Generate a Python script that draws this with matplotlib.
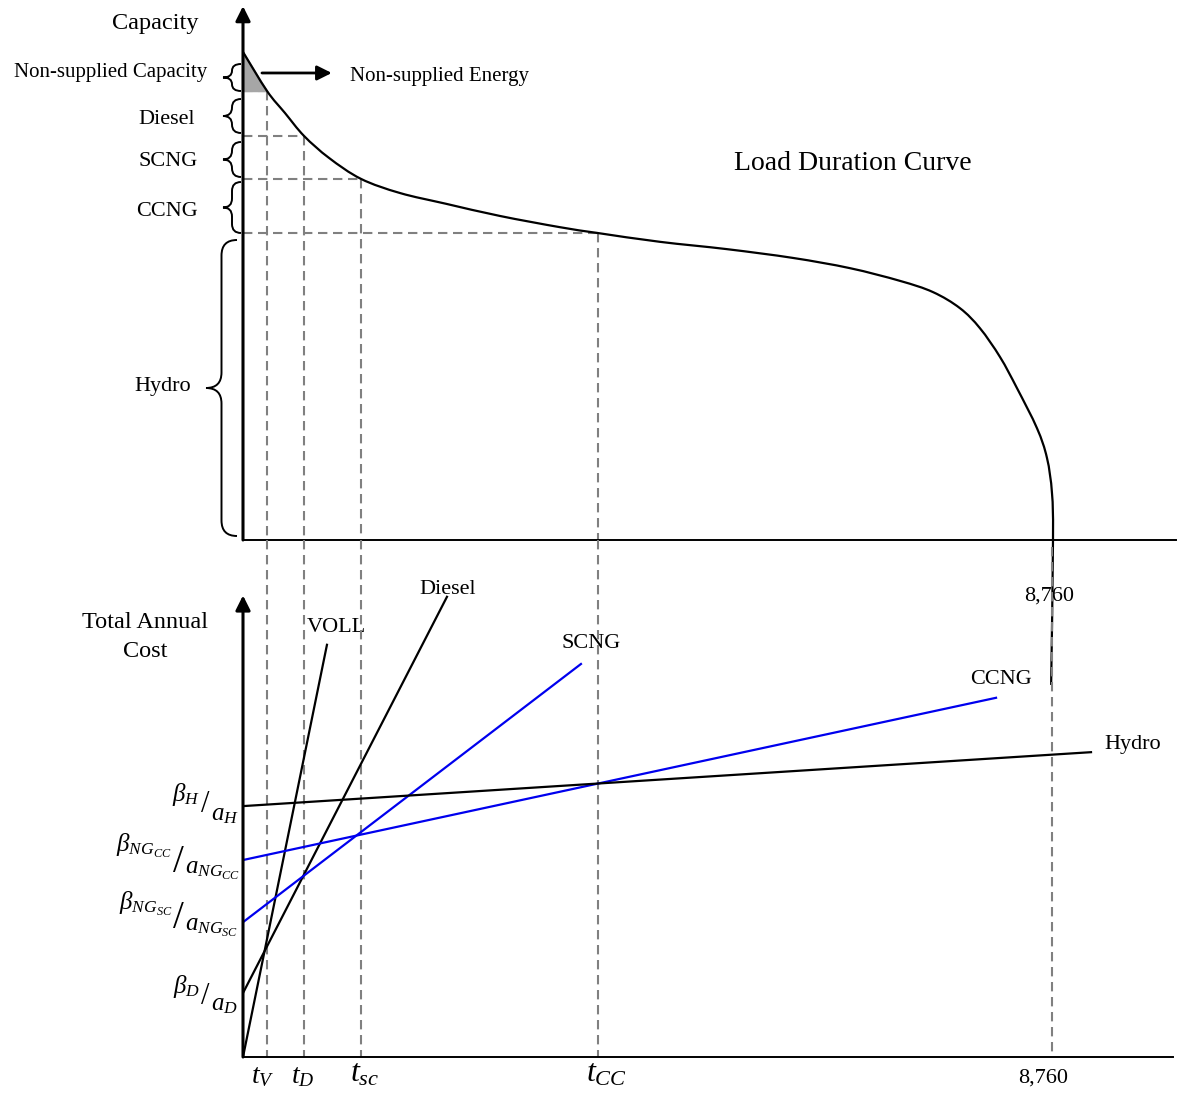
import numpy as np
import matplotlib
matplotlib.use('Agg')
import matplotlib.pyplot as plt
from matplotlib.path import Path
from matplotlib.patches import PathPatch

plt.rcParams['font.family'] = ['Liberation Serif', 'DejaVu Serif']
plt.rcParams['mathtext.fontset'] = 'custom'
plt.rcParams['mathtext.rm'] = 'Liberation Serif'
plt.rcParams['mathtext.it'] = 'Liberation Serif:italic'
plt.rcParams['mathtext.bf'] = 'Liberation Serif:bold'

# ---------------- data ----------------
# Load duration curve: hours of the year vs. capacity (% of peak)
ldc_hours = [0, 260, 454, 660, 930, 1276, 1698, 2195, 2779, 3428, 3839, 4510,
             5234, 5948, 6565, 7105, 7462, 7754, 7970, 8187, 8371, 8587,
             8695, 8749, 8760, 8740]
ldc_capacity = [100, 92.0, 87.5, 82.8, 78.3, 74.0, 71.1, 68.9, 66.4, 64.1, 62.9,
                61.1, 59.6, 57.8, 55.7, 53.1, 50.8, 47.5, 43.4, 37.5, 31.1, 22.9,
                16.8, 9.6, 0.0, -29.7]

# Break points (screening curve intersections) and their capacity levels
break_names = ['t_V', 't_D', 't_SC', 't_CC']
break_hours = [260, 660, 1276, 3839]
break_capacity = [92.0, 82.8, 74.0, 62.9]
year_hours = 8760

# Screening curves: total annual cost lines
techs = ['VOLL', 'Diesel', 'SCNG', 'CCNG', 'Hydro']
cost_intercept = [0.0, 14.0, 29.5, 43.1, 54.9]
cost_end_hours = [908, 2206, 3655, 8144, 9171]
cost_end_value = [90.2, 100.7, 86.0, 78.6, 66.7]
tech_colors = ['black', 'black', '#0000ee', '#0000ee', 'black']

# ---------------- layout ----------------
W, H = 1179, 1095
X0 = 243             # pixel x of the origin
HPP = 8760 / 810     # hours per pixel
fig = plt.figure(figsize=(W / 100, H / 100), dpi=100)

top = fig.add_axes([X0 / W, (H - 540) / H, (W - X0) / W, 540 / H])
bot = fig.add_axes([X0 / W, (H - 1057) / H, (W - X0) / W, 517 / H])
ann = fig.add_axes([0, 0, 1, 1], zorder=-1)
for a in (top, bot, ann):
    a.set_axis_off()
    a.patch.set_alpha(0)
top.set_xlim(0, (W - X0) * HPP)
bot.set_xlim(0, (W - X0) * HPP)
top.set_ylim(0, 540 * 100 / 488)
bot.set_ylim(0, 517 * 100 / 457)
ann.set_xlim(0, W)
ann.set_ylim(H, 0)

dash = dict(color='#808080', lw=1.5, ls=(0, (4.5, 2.7)))


def smooth_path(xs, ys):
    """Smooth (Catmull-Rom style) Bezier path through the given points."""
    pts = np.column_stack([xs, ys]).astype(float)
    verts = [pts[0]]
    codes = [Path.MOVETO]
    n = len(pts)
    for i in range(n - 1):
        p0 = pts[i - 1] if i > 0 else pts[i]
        p1, p2 = pts[i], pts[i + 1]
        p3 = pts[i + 2] if i + 2 < n else pts[i + 1]
        verts += [p1 + (p2 - p0) / 6.0, p2 - (p3 - p1) / 6.0, p2]
        codes += [Path.CURVE4] * 3
    return Path(verts, codes)


# ---------------- top panel ----------------
top.add_patch(PathPatch(smooth_path(ldc_hours, ldc_capacity), fill=False,
                        color='black', lw=1.6, clip_on=False, zorder=3))
top.fill_between(ldc_hours[:2], ldc_capacity[:2], break_capacity[0],
                 color='#a6a6a6', zorder=2)
for t, c in zip(break_hours, break_capacity):
    top.plot([0, t], [c, c], **dash, zorder=1)
    top.plot([t, t], [c, 0], **dash, zorder=1)
top.plot([0, 10090], [0, 0], color='black', lw=1.4, clip_on=False)
top.annotate('', xy=(0, 109.4), xytext=(0, 0),
             arrowprops=dict(arrowstyle='-|>', color='black', lw=2.2,
                             mutation_scale=22, shrinkA=0, shrinkB=0))
top.annotate('', xy=(960, 95.7), xytext=(205, 95.7),
             arrowprops=dict(arrowstyle='-|>', color='black', lw=2.0,
                             mutation_scale=22, shrinkA=0, shrinkB=0))

# ---------------- bottom panel ----------------
for name, b0, te, ce, col in zip(techs, cost_intercept, cost_end_hours,
                                 cost_end_value, tech_colors):
    bot.plot([0, te], [b0, ce], color=col, lw=1.6, zorder=3)
for t in break_hours:
    bot.plot([t, t], [bot.get_ylim()[1], 0], **dash, zorder=1)
bot.plot([year_hours - 10, year_hours - 10], [111.5, 0], **dash, zorder=1)
bot.plot([0, 10058], [0, 0], color='black', lw=1.4, clip_on=False)
bot.annotate('', xy=(0, 101.0), xytext=(0, 0),
             arrowprops=dict(arrowstyle='-|>', color='black', lw=2.2,
                             mutation_scale=22, shrinkA=0, shrinkB=0))


# ---------------- annotations in pixel space ----------------
def brace(x_end, x_tip, y0, y1, lw=1.4):
    xm = (x_end + x_tip) / 2.0
    ym = (y0 + y1) / 2.0
    q = min(x_end - xm, (y1 - y0) / 4.0)
    verts = [(x_end, y0), (xm, y0), (xm, y0 + q), (xm, ym - q), (xm, ym), (x_tip, ym),
             (xm, ym), (xm, ym + q), (xm, y1 - q), (xm, y1), (x_end, y1)]
    codes = [Path.MOVETO, Path.CURVE3, Path.CURVE3, Path.LINETO, Path.CURVE3, Path.CURVE3,
             Path.CURVE3, Path.CURVE3, Path.LINETO, Path.CURVE3, Path.CURVE3]
    ann.add_patch(PathPatch(Path(verts, codes), fill=False, lw=lw, color='black'))


brace(241, 223, 64, 91)
brace(241, 223, 99, 133)
brace(241, 223, 142, 177)
brace(241, 223, 182, 233)
brace(237, 206, 240, 536)

DY = 3


def T(x, y, s, size=16, ha='center', **kw):
    ann.text(x, y + DY, s, fontsize=size, ha=ha, va='center', **kw)


T(155, 20, 'Capacity', 17.5)
T(207, 70, 'Non-supplied Capacity', 15, ha='right')
T(167, 117, 'Diesel')
T(168, 159, 'SCNG')
T(167, 209, 'CCNG')
T(163, 384, 'Hydro')
T(350, 73, 'Non-supplied Energy', 15, ha='left')
T(853, 160, 'Load Duration Curve', 20)
T(1049, 593, '8,760')

T(145, 634, 'Total Annual\nCost', 17.5, linespacing=1.55)
T(336, 625, 'VOLL')
T(448, 586, 'Diesel')
T(591, 641, 'SCNG')
T(1001, 676, 'CCNG')
T(1133, 741, 'Hydro')
T(1043, 1075, '8,760')


# skewed fractions beta / a : numerator, slash, denominator
def skew_frac(num, den, xs, ys, yn, yd, slash_size, size=18):
    half = slash_size * 1.389 * 0.278 / 2.0 + 0.5
    T(xs - half, yn, num, size, ha='right')
    T(xs, ys, '/', slash_size)
    T(xs + half + 1, yd, den, size, ha='left')


skew_frac(r'$\beta_{H}$', r'$a_{H}$', 205, 802, 791, 812, 22)
skew_frac(r'$\beta_{NG_{CC}}$', r'$a_{NG_{CC}}$', 178, 860, 843, 868, 28)
skew_frac(r'$\beta_{NG_{SC}}$', r'$a_{NG_{SC}}$', 178, 916, 901, 925, 28)
skew_frac(r'$\beta_{D}$', r'$a_{D}$', 205, 993, 983, 1002, 22)

T(263, 1074, r'$t_V$', 20)
T(303, 1074, r'$t_D$', 20)
T(365, 1071, r'$t_{sc}$', 23)
T(606, 1071, r'$t_{CC}$', 23)

fig.savefig('out.png', dpi=100)
